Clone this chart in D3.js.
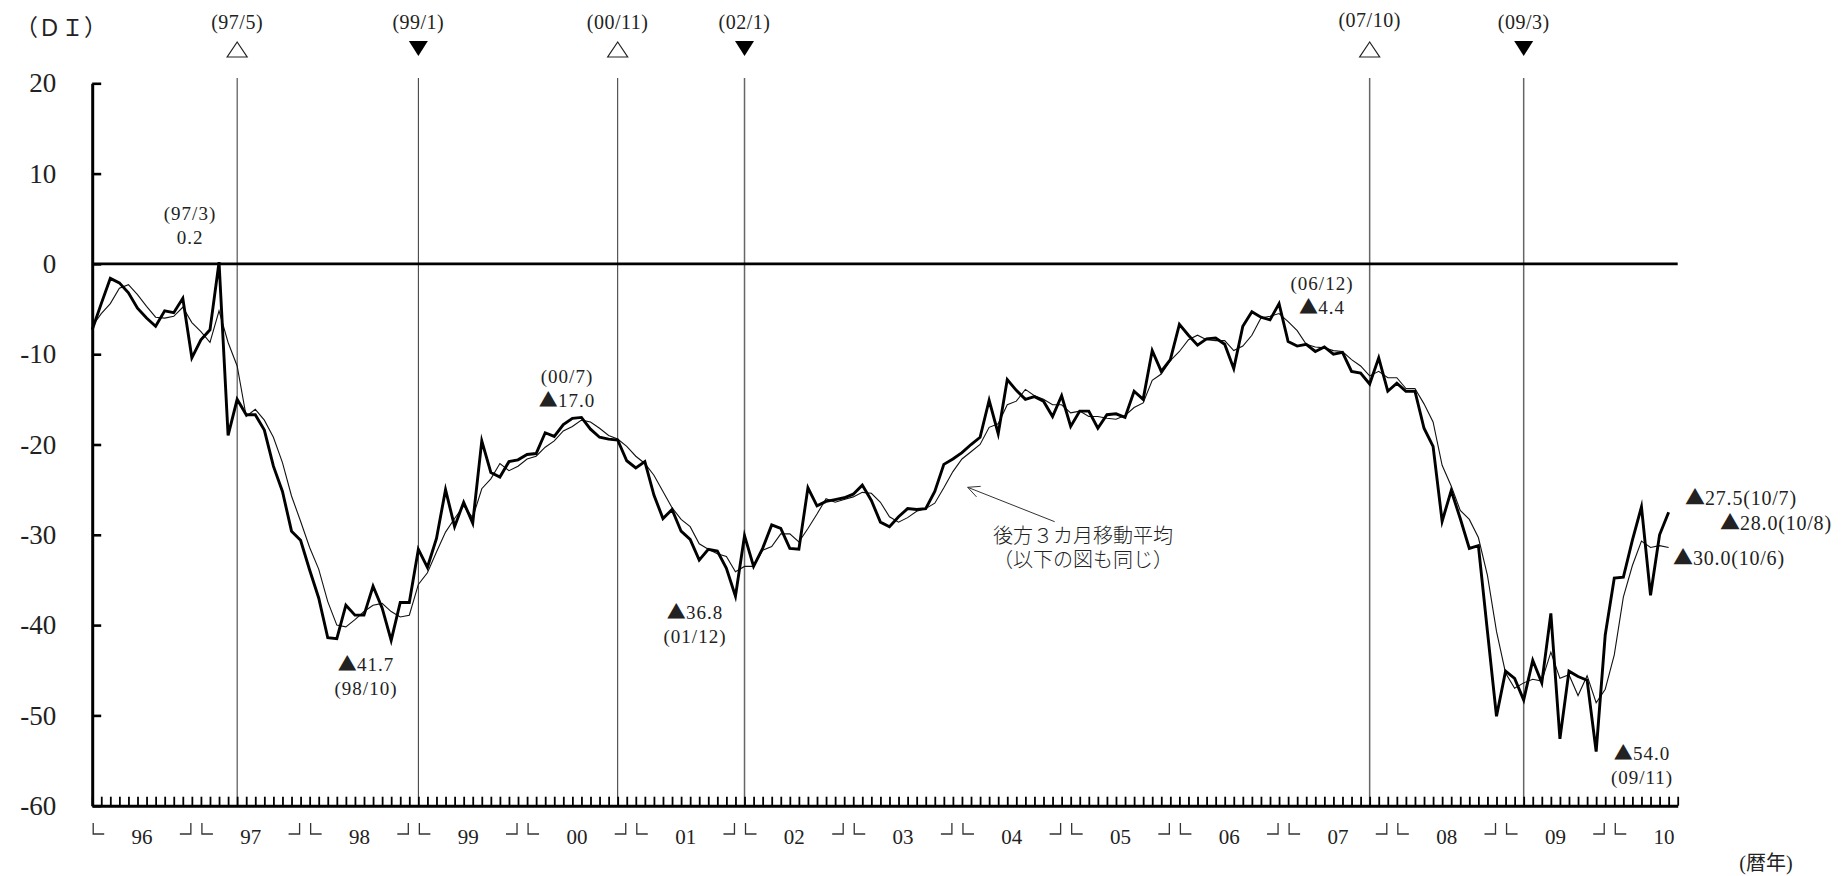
<!DOCTYPE html>
<html><head><meta charset="utf-8">
<script src="https://cdn.jsdelivr.net/npm/d3@7"></script>
<style>
html,body{margin:0;padding:0;background:#fff;}
svg{display:block;background:#fff;}
text{font-family:"Liberation Serif","Noto Sans CJK JP",serif;fill:#222;}
</style></head><body>
<svg id="chart" width="1845" height="876"></svg>
<script>
// ---- data (monthly, 1996/1 .. 2010/7) ----
const yearLabels = ["96","97","98","99","00","01","02","03","04","05","06","07","08","09","10"];
const di = [
 -7.3,-4.4,-1.6,-2.1,-3.2,-4.9,-6.0,-6.9,-5.2,-5.4,-3.8,-10.4,
 -8.4,-7.3,0.2,-19.0,-15.0,-16.7,-16.7,-18.4,-22.4,-25.2,-29.6,-30.6,
 -33.9,-37.0,-41.4,-41.5,-37.8,-38.9,-38.9,-35.7,-38.1,-41.7,-37.5,-37.5,
 -31.6,-33.6,-30.4,-25.0,-29.1,-26.4,-28.7,-19.6,-23.1,-23.6,-21.9,-21.7,
 -21.1,-21.0,-18.7,-19.1,-17.8,-17.1,-17.0,-18.3,-19.2,-19.4,-19.5,-21.8,
 -22.6,-21.9,-25.6,-28.2,-27.2,-29.6,-30.5,-32.8,-31.6,-31.8,-33.7,-36.8,
 -30.1,-33.5,-31.5,-28.9,-29.3,-31.5,-31.6,-24.8,-26.8,-26.3,-26.1,-25.9,
 -25.5,-24.5,-26.2,-28.6,-29.1,-28.0,-27.1,-27.2,-27.1,-25.2,-22.2,-21.6,
 -20.9,-20.0,-19.2,-15.1,-18.8,-12.8,-14.0,-15.0,-14.7,-15.2,-16.9,-14.6,
 -18.0,-16.3,-16.3,-18.2,-16.7,-16.6,-17.0,-14.1,-15.0,-9.6,-11.9,-10.6,
 -6.7,-7.9,-9.0,-8.3,-8.2,-8.9,-11.6,-6.9,-5.3,-5.9,-6.2,-4.4,
 -8.6,-9.1,-8.9,-9.7,-9.2,-10.0,-9.8,-11.9,-12.1,-13.3,-10.4,-14.1,
 -13.2,-14.1,-14.1,-18.2,-20.2,-28.5,-25.1,-28.2,-31.5,-31.2,-40.7,-50.1,
 -45.1,-45.9,-48.3,-43.9,-46.4,-38.7,-52.6,-45.1,-45.7,-46.1,-54.0,-41.1,
 -34.8,-34.7,-30.6,-26.9,-36.7,-30.0,-27.5
];
const ma3 = [
 -6.9,-5.5,-4.4,-2.7,-2.3,-3.4,-4.7,-5.9,-6.0,-5.8,-4.8,-6.5,
 -7.5,-8.7,-5.2,-8.7,-11.3,-16.9,-16.1,-17.3,-19.2,-22.0,-25.7,-28.5,
 -31.4,-33.8,-37.4,-40.0,-40.2,-39.4,-38.5,-37.8,-37.6,-38.5,-39.1,-38.9,
 -35.5,-34.2,-31.9,-29.7,-28.2,-26.8,-28.1,-24.9,-23.8,-22.1,-22.9,-22.4,
 -21.6,-21.3,-20.3,-19.6,-18.5,-18.0,-17.3,-17.5,-18.2,-19.0,-19.4,-20.2,
 -21.3,-22.1,-23.4,-25.2,-27.0,-28.3,-29.1,-31.0,-31.6,-32.1,-32.4,-34.1,
 -33.5,-33.5,-31.7,-31.3,-29.9,-29.9,-30.8,-29.3,-27.7,-26.0,-26.4,-26.1,
 -25.8,-25.3,-25.4,-26.4,-28.0,-28.6,-28.1,-27.4,-27.1,-26.5,-24.8,-23.0,
 -21.6,-20.8,-20.0,-18.1,-17.7,-15.6,-15.2,-13.9,-14.6,-15.0,-15.6,-15.6,
 -16.5,-16.3,-16.9,-16.9,-17.1,-17.2,-16.8,-15.9,-15.4,-12.9,-12.2,-10.7,
 -9.7,-8.4,-7.9,-8.4,-8.5,-8.5,-9.6,-9.1,-7.9,-6.0,-5.8,-5.5,
 -6.4,-7.4,-8.9,-9.2,-9.3,-9.6,-9.7,-10.6,-11.3,-12.4,-11.9,-12.6,
 -12.6,-13.8,-13.8,-15.5,-17.5,-22.3,-24.6,-27.3,-28.3,-30.3,-34.5,-40.7,
 -45.3,-47.0,-46.4,-46.0,-46.2,-43.0,-45.9,-45.5,-47.8,-45.6,-48.6,-47.1,
 -43.3,-36.9,-33.4,-30.7,-31.4,-31.2,-31.4
];
const yTicks = [20,10,0,-10,-20,-30,-40,-50,-60];
const turnLabels = ["(97/5)","(99/1)","(00/11)","(02/1)","(07/10)","(09/3)"];
const turnIndex  = [16,36,58,72,141,158];
const turnKind   = ["peak","trough","peak","trough","peak","trough"];
const noteLines  = [["(97/3)","0.2"],["(00/7)","▲17.0"],["▲41.7","(98/10)"],["▲36.8","(01/12)"],["(06/12)","▲4.4"],["▲54.0","(09/11)"]];
const sideNotes  = ["▲27.5(10/7)","▲28.0(10/8)","▲30.0(10/6)"];

// ---- layout ----
const svg = d3.select("#chart");
const x = d3.scaleLinear().domain([0,175]).range([92.2,1677.7]);
const y = d3.scaleLinear().domain([-60,20]).range([805.7,83.3]);
const lastIdx = 175;

// helper: text with a full-width ▲ glyph
function richText(sel, t){
  const parts = t.split(/(▲)/).filter(p=>p.length);
  parts.forEach(p=>{
    const ts = sel.append("tspan").text(p);
    if(p==="▲") ts.attr("font-family","'Noto Sans CJK JP',sans-serif").attr("letter-spacing",0);
  });
  return sel;
}

// turning point vertical lines
svg.append("g").selectAll("line").data(turnIndex).join("line")
  .attr("x1",d=>x(d)).attr("x2",d=>x(d)).attr("y1",78).attr("y2",y(-60))
  .attr("stroke",(d,i)=> i<3 ? "#333" : "#666")
  .attr("stroke-width",(d,i)=> i<3 ? 1 : 1.5);

// turning markers
const tg = svg.append("g");
turnIndex.forEach((d,i)=>{
  const cx = x(d);
  tg.append("text").attr("x",cx).attr("y",i===4?27:29).attr("text-anchor","middle")
    .attr("font-size",20).attr("letter-spacing",0.5).text(turnLabels[i]);
  if(turnKind[i]==="peak"){
    tg.append("path").attr("d",`M${cx},42 L${cx-10},57 L${cx+10},57 Z`)
      .attr("fill","none").attr("stroke","#222").attr("stroke-width",1.2);
  } else {
    tg.append("path").attr("d",`M${cx-9.5},41 L${cx+9.5},41 L${cx},56 Z`).attr("fill","#000");
  }
});

// zero line
svg.append("line").attr("x1",x(0)).attr("x2",x(lastIdx)).attr("y1",y(0)).attr("y2",y(0))
  .attr("stroke","#000").attr("stroke-width",2.6);

// moving average (thin)
const line = d3.line().x((d,i)=>x(i)).y(d=>y(d));
svg.append("path").datum(ma3).attr("d",line).attr("fill","none")
  .attr("stroke","#111").attr("stroke-width",1.1);
// DI (thick)
svg.append("path").datum(di).attr("d",line).attr("fill","none")
  .attr("stroke","#000").attr("stroke-width",2.9).attr("stroke-linejoin","miter").attr("stroke-miterlimit",6);

// axes
const xAxis = d3.axisBottom(x).tickValues(d3.range(0,lastIdx+1)).tickSize(-9).tickSizeOuter(0).tickFormat("");
const gx = svg.append("g").attr("transform",`translate(0,${y(-60)})`).call(xAxis);
gx.select(".domain").attr("stroke","#000").attr("stroke-width",3);
gx.selectAll(".tick line").attr("stroke","#000").attr("stroke-width",1.8);

const yAxis = d3.axisLeft(y).tickValues(yTicks).tickSize(-9).tickSizeOuter(0).tickPadding(36).tickFormat(d=>d);
const gy = svg.append("g").attr("transform",`translate(${x(0)},0)`).call(yAxis);
gy.select(".domain").attr("stroke","#000").attr("stroke-width",3);
gy.selectAll(".tick line").attr("stroke","#000").attr("stroke-width",2.6);
gy.selectAll(".tick text").attr("font-size",27).attr("fill","#222")
  .attr("font-family","'Liberation Serif',serif");
gy.attr("font-family",null).attr("font-size",null);

// year brackets + labels
const yg = svg.append("g");
yearLabels.forEach((lab,k)=>{
  const s = 12*k, e = Math.min(s+11, lastIdx);
  yg.append("path").attr("d",`M${x(s)+1},823 V834 H${x(s)+12}`)
    .attr("fill","none").attr("stroke","#333").attr("stroke-width",1.3);
  if(s+11 <= lastIdx){
    yg.append("path").attr("d",`M${x(e)-12},834 H${x(e)-1} V823`)
      .attr("fill","none").attr("stroke","#333").attr("stroke-width",1.3);
  }
  yg.append("text").attr("x",x(s+5.5)).attr("y",844).attr("text-anchor","middle")
    .attr("font-size",21).text(lab);
});

// unit labels
svg.append("text").attr("x",15).attr("y",36).attr("font-size",23)
  .attr("font-family","'Noto Sans CJK JP',sans-serif").text("（ＤＩ）");
svg.append("text").attr("x",1766).attr("y",870).attr("text-anchor","middle")
  .attr("font-size",20).text("(暦年)");

// point annotations
const notePos = [[190,220],[567,383],[366,671],[695,619],[1322,290],[1642,760]];
noteLines.forEach((ls,i)=>{
  ls.forEach((t,j)=>{
    const tx = svg.append("text").attr("x",notePos[i][0]).attr("y",notePos[i][1]+24*j)
      .attr("text-anchor","middle").attr("font-size",19).attr("letter-spacing",1);
    richText(tx,t);
  });
});
const sidePos = [[1685,505],[1720,530],[1673,565]];
sideNotes.forEach((t,i)=>{
  const tx = svg.append("text").attr("x",sidePos[i][0]).attr("y",sidePos[i][1])
    .attr("font-size",20).attr("letter-spacing",0.8);
  richText(tx,t);
});

// moving-average callout
const tail = [1054.7,521.7], tip = [967.7,487.3];
svg.append("line").attr("x1",tail[0]).attr("y1",tail[1]).attr("x2",tip[0]).attr("y2",tip[1])
  .attr("stroke","#333").attr("stroke-width",1);
const ang = Math.atan2(tail[1]-tip[1], tail[0]-tip[0]);
[-0.45,0.45].forEach(a=>{
  svg.append("line").attr("x1",tip[0]).attr("y1",tip[1])
    .attr("x2",tip[0]+13*Math.cos(ang+a)).attr("y2",tip[1]+13*Math.sin(ang+a))
    .attr("stroke","#333").attr("stroke-width",1);
});
svg.append("text").attr("x",1083).attr("y",543).attr("text-anchor","middle")
  .attr("font-size",20).attr("font-family","'Noto Sans CJK JP',sans-serif").attr("font-weight",300)
  .text("後方３カ月移動平均");
svg.append("text").attr("x",1083).attr("y",567).attr("text-anchor","middle")
  .attr("font-size",20).attr("font-family","'Noto Sans CJK JP',sans-serif").attr("font-weight",300)
  .text("（以下の図も同じ）");
</script>
</body></html>
